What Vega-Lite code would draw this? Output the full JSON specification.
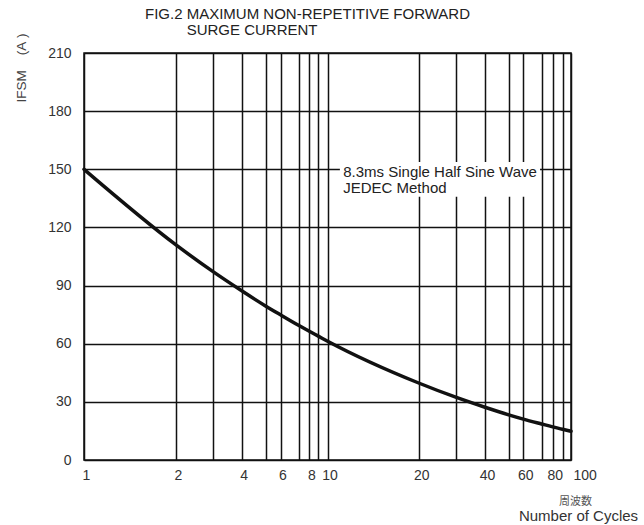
{
  "$schema": "https://vega.github.io/schema/vega-lite/v6.json",
  "width": 487,
  "height": 407,
  "autosize": {"type": "none"},
  "padding": {"left": 84, "top": 53, "right": 73, "bottom": 65},
  "background": "white",
  "config": {
    "font": "Liberation Sans",
    "view": {"stroke": "#111", "strokeWidth": 1.5}
  },
  "title": {
    "text": ["FIG.2 MAXIMUM NON-REPETITIVE FORWARD", "\u200b\u00a0\u00a0\u00a0\u00a0\u00a0\u00a0\u00a0\u00a0\u00a0\u00a0SURGE CURRENT"],
    "anchor": "start",
    "frame": "group",
    "dx": 61,
    "fontSize": 15,
    "fontWeight": "normal",
    "font": "Liberation Sans",
    "color": "#222",
    "lineHeight": 15.7,
    "baseline": "top",
    "offset": -5
  },
  "data": {
    "values": [
      {"cycles": 1, "ifsm": 150},
      {"cycles": 2, "ifsm": 111},
      {"cycles": 3, "ifsm": 97.3},
      {"cycles": 4, "ifsm": 87.3},
      {"cycles": 5, "ifsm": 79.5},
      {"cycles": 6, "ifsm": 74.9},
      {"cycles": 7, "ifsm": 69.5},
      {"cycles": 8, "ifsm": 66.4},
      {"cycles": 9, "ifsm": 63.9},
      {"cycles": 10, "ifsm": 61.3},
      {"cycles": 20, "ifsm": 39.6},
      {"cycles": 30, "ifsm": 32.4},
      {"cycles": 40, "ifsm": 27.2},
      {"cycles": 50, "ifsm": 23.3},
      {"cycles": 60, "ifsm": 21.1},
      {"cycles": 70, "ifsm": 18.6},
      {"cycles": 80, "ifsm": 17.1},
      {"cycles": 90, "ifsm": 15.9},
      {"cycles": 100, "ifsm": 14.8}
    ]
  },
  "layer": [
    {
      "mark": {"type": "line", "color": "#111", "strokeWidth": 3.5, "interpolate": "monotone", "strokeCap": "round"},
      "encoding": {
        "x": {
          "field": "cycles",
          "type": "quantitative",
          "scale": {
            "type": "linear",
            "domain": [1, 2, 3, 4, 5, 6, 7, 8, 9, 10, 20, 30, 40, 50, 60, 70, 80, 90, 100],
            "range": [0, 92, 128.7, 157.7, 181.5, 196.5, 214.5, 225.3, 234.3, 243.6, 335.3, 371.7, 401, 424.7, 439.3, 457.5, 468.7, 478.5, 487],
            "nice": false,
            "zero": false
          },
          "axis": {
            "values": [1, 2, 3, 4, 5, 6, 7, 8, 9, 10, 20, 30, 40, 50, 60, 70, 80, 90, 100],
            "tickCount": 100,
            "format": "d",
            "labelExpr": "indexof([1,2,4,6,8,10,20,40,60,80,100], datum.value) >= 0 ? datum.label : ''",
            "grid": true,
            "gridColor": "#111",
            "gridWidth": 1.5,
            "gridOpacity": 1,
            "domain": false,
            "ticks": false,
            "labelPadding": 8,
            "labelFontSize": 14,
            "labelColor": "#333",
            "labelFont": "Liberation Sans",
            "labelFlush": false,
            "labelOverlap": false,
            "labelBound": false,
            "labelOffset": 2,
            "labelAlign": {"condition": {"test": "datum.value == 100", "value": "left"}, "value": "center"},
            "title": "Number of Cycles",
            "titleX": 494,
            "titleY": 60,
            "titleAlign": "center",
            "titleBaseline": "alphabetic",
            "titleFontSize": 15,
            "titleFontWeight": "normal",
            "titleColor": "#333",
            "titleFont": "Liberation Sans"
          }
        },
        "y": {
          "field": "ifsm",
          "type": "quantitative",
          "scale": {"domain": [0, 210], "nice": false, "zero": true},
          "axis": {
            "values": [0, 30, 60, 90, 120, 150, 180, 210],
            "tickCount": 50,
            "grid": true,
            "gridColor": "#111",
            "gridWidth": 1.5,
            "gridOpacity": 1,
            "domain": false,
            "ticks": false,
            "labelPadding": 13,
            "labelFontSize": 14,
            "labelColor": "#333",
            "labelFont": "Liberation Sans",
            "labelFlush": false,
            "labelOverlap": false,
            "title": "IFSM\u00a0\u00a0\u00a0\u00a0(A\u00a0)",
            "titleAngle": -90,
            "titleX": -63,
            "titleY": 14.5,
            "titleAlign": "center",
            "titleBaseline": "middle",
            "titleFontSize": 13.5,
            "titleFontWeight": "normal",
            "titleColor": "#444",
            "titleFont": "Liberation Sans"
          }
        }
      }
    },
    {
      "data": {"values": [{}]},
      "mark": {"type": "rect", "fill": "white", "stroke": null},
      "encoding": {
        "x": {"datum": 11.34, "type": "quantitative"},
        "x2": {"datum": 69.2},
        "y": {"datum": 153.8, "type": "quantitative"},
        "y2": {"datum": 135.8}
      }
    },
    {
      "data": {"values": [{}]},
      "mark": {
        "type": "text",
        "text": ["8.3ms Single Half Sine Wave", "JEDEC Method"],
        "align": "left",
        "baseline": "alphabetic",
        "lineHeight": 16,
        "fontSize": 15,
        "font": "Liberation Sans",
        "color": "#222"
      },
      "encoding": {
        "x": {"datum": 11.7, "type": "quantitative"},
        "y": {"datum": 146.1, "type": "quantitative"}
      }
    },
    {
      "data": {"values": [{}]},
      "mark": {
        "type": "text",
        "text": "周波数",
        "align": "center",
        "baseline": "alphabetic",
        "fontSize": 11,
        "font": "Noto Sans CJK JP",
        "color": "#555"
      },
      "encoding": {
        "x": {"datum": 105.3, "type": "quantitative"},
        "y": {"datum": -23.2, "type": "quantitative"}
      }
    }
  ]
}
